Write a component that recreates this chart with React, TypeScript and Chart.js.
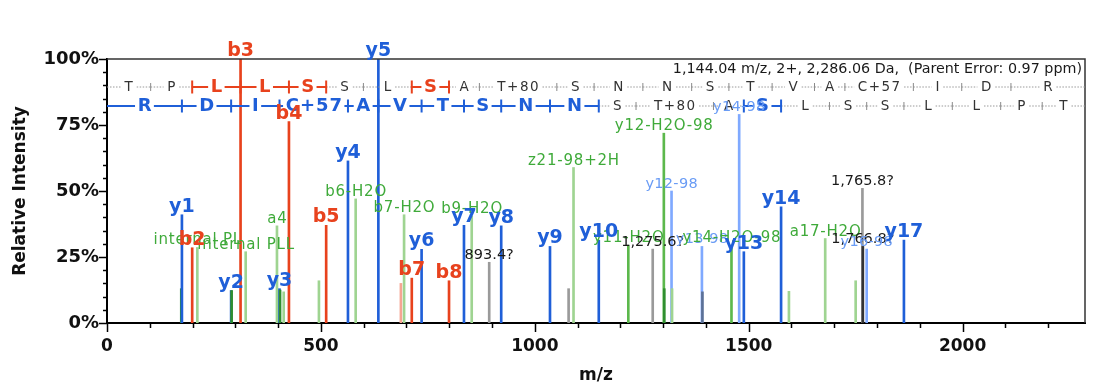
import React, { useEffect, useRef } from 'react';
import { Chart, registerables } from 'chart.js';

Chart.register(...registerables);

// ---------------- data ----------------
const xMax = 2286.06;

const peakMz = [
  173.6, 175.12, 199.11, 211.14, 290.15, 291.3, 312.19, 324.2, 397.3, 403.23, 404.5, 413.0,
  425.28, 495.4, 512.31, 563.26, 581.3, 634.3, 687.0, 694.4, 712.42, 735.36, 799.46, 834.43,
  852.5, 893.4, 921.44, 1035.48, 1079.0, 1090.5, 1149.53, 1218.56, 1275.6, 1301.6, 1302.6,
  1319.6, 1320.8, 1390.6, 1391.8, 1459.7, 1477.7, 1488.61, 1575.65, 1594.0, 1678.8, 1750.0,
  1765.8, 1766.8, 1775.76, 1862.8,
];
const peakIntensity = [
  13, 41, 28.5, 28.6, 12.3, 12.3, 100, 27, 36.8, 13, 12.5, 11.8,
  76.3, 16, 37, 61.4, 47, 100, 15, 41, 17, 27.9, 16, 37,
  40.5, 23, 36.8, 29, 13, 58.9, 31.4, 29.5, 28, 71.9, 13,
  50, 13, 29, 11.8, 29.5, 79, 27, 44, 12, 32, 16,
  51, 29, 28, 31.4,
];
const peakKind = [
  'dg', 'y', 'b', 'lg', 'y', 'dg', 'b', 'lg', 'lg', 'y', 'dg', 'lg',
  'b', 'lg', 'b', 'y', 'lg', 'y', 'pink', 'lg', 'b', 'y', 'b', 'y',
  'lg', 'gray', 'y', 'y', 'gray', 'lg', 'y', 'g', 'gray', 'g', 'dg',
  'lb', 'lg', 'lb', 'db', 'g', 'lb', 'y', 'y', 'lg', 'lg', 'lg',
  'gray', 'blk', 'lb', 'y',
];
const peakLabel = [
  '', 'y1', 'b2', 'internal PL', 'y2', '', 'b3', 'internal PLL', 'a4', 'y3', '', '',
  'b4', '', 'b5', 'y4', 'b6-H2O', 'y5', '', 'b7-H2O', 'b7', 'y6', 'b8', 'y7',
  'b9-H2O', '893.4?', 'y8', 'y9', '', 'z21-98+2H', 'y10', 'y11-H2O', '1,275.6?', 'y12-H2O-98', '',
  'y12-98', '', 'y13-98', '', 'y14-H2O-98', 'y14-98', 'y13', 'y14', '', 'a17-H2O', '',
  '1,765.8?', '1,766.8?', 'y16-98', 'y17',
];

// fragment ladders (residue letters and boundary m/z values)
const bSeq = ['T', 'P', 'L', 'L', 'S', 'S', 'L', 'S', 'A', 'T+80', 'S', 'N', 'N', 'S', 'T', 'V', 'A', 'C+57', 'I', 'D', 'R'];
const bBounds = [0, 102.05, 199.11, 312.19, 425.28, 512.31, 599.34, 712.42, 799.46, 870.49, 1051.5, 1138.54, 1252.58, 1366.63, 1453.66, 1554.71, 1653.77, 1724.81, 1884.84, 1997.92, 2112.95, 2286.06];
const bSolid = [2, 3, 4, 7];

const ySeq = ['R', 'D', 'I', 'C+57', 'A', 'V', 'T', 'S', 'N', 'N', 'S', 'T+80', 'A', 'S', 'L', 'S', 'S', 'L', 'L', 'P', 'T'];
const yBounds = [0, 175.12, 290.15, 403.23, 563.26, 634.3, 735.36, 834.43, 921.44, 1035.48, 1149.53, 1236.57, 1417.58, 1488.61, 1575.65, 1688.73, 1775.76, 1862.8, 1975.88, 2088.96, 2186.02, 2286.06];
const ySolid = [0, 1, 2, 3, 4, 5, 6, 7, 8, 9, 13];

const headerText = '1,144.04 m/z, 2+, 2,286.06 Da,  (Parent Error: 0.97 ppm)';
const xTitle = 'm/z';
const yTitle = 'Relative Intensity';

// ---------------- styles ----------------
const BLUE = '#1f5fd8';
const RED = '#e8421d';
const FONT = "'DejaVu Sans', sans-serif";

const lineColor: Record<string, string> = {
  y: BLUE,
  b: RED,
  g: '#5cb84c',
  lg: '#9fd491',
  dg: '#2f8f2f',
  lb: '#7fa9ff',
  gray: '#9a9a9a',
  blk: '#333333',
  pink: '#f6a593',
  db: '#5d7196',
};
const labelStyle: Record<string, { color: string; size: number; spacing: number; weight: string }> = {
  y: { color: BLUE, size: 19, spacing: 0, weight: 'bold' },
  b: { color: RED, size: 19, spacing: 0, weight: 'bold' },
  g: { color: '#3faa3a', size: 15, spacing: 0.8, weight: 'normal' },
  lg: { color: '#3faa3a', size: 15, spacing: 0.8, weight: 'normal' },
  lb: { color: '#6a9cf5', size: 14.5, spacing: 0.3, weight: 'normal' },
  gray: { color: '#1a1a1a', size: 14.5, spacing: 0, weight: 'normal' },
  blk: { color: '#1a1a1a', size: 14.5, spacing: 0, weight: 'normal' },
};

function drawLadder(ctx: any, xs: any, seq: string[], bounds: number[], solid: number[], yRow: number, color: string) {
  ctx.textAlign = 'center';
  ctx.textBaseline = 'middle';
  for (let i = 0; i < seq.length; i++) {
    const x0 = xs.getPixelForValue(bounds[i]);
    const x1 = xs.getPixelForValue(bounds[i + 1]);
    const mid = (x0 + x1) / 2;
    const on = solid.includes(i);
    ctx.font = on ? `bold 18px ${FONT}` : `13.5px ${FONT}`;
    ctx.letterSpacing = on ? '1px' : '1.5px';
    const w = ctx.measureText(seq[i]).width;
    const gap = on ? 2 : 3;
    const l = mid - w / 2 - gap;
    const r = mid + w / 2 + gap;
    ctx.strokeStyle = on ? color : '#9a9a9a';
    ctx.lineWidth = on ? 2 : 1;
    ctx.setLineDash(on ? [] : [1.5, 1.5]);
    ctx.beginPath();
    if (l > x0) { ctx.moveTo(x0, yRow); ctx.lineTo(l, yRow); }
    if (r < x1) { ctx.moveTo(r, yRow); ctx.lineTo(x1, yRow); }
    ctx.stroke();
    ctx.setLineDash([]);
    ctx.fillStyle = on ? color : '#333';
    ctx.fillText(seq[i], mid + 0.6, yRow + 0.5);
  }
  ctx.letterSpacing = '0px';
  for (let i = 1; i < bounds.length - 1; i++) {
    const px = xs.getPixelForValue(bounds[i]);
    const on = solid.includes(i - 1) || solid.includes(i);
    const half = on ? 6.5 : 4;
    ctx.strokeStyle = on ? color : '#8a8a8a';
    ctx.lineWidth = on ? 2 : 1;
    ctx.beginPath();
    ctx.moveTo(px, yRow - half);
    ctx.lineTo(px, yRow + half);
    ctx.stroke();
  }
}

const annotate = {
  id: 'annotate',
  afterDatasetsDraw(chart: any) {
    const { ctx, chartArea: a } = chart;
    const xs = chart.scales.x;
    const ys = chart.scales.y;
    ctx.save();

    // box top / right
    ctx.strokeStyle = '#333';
    ctx.lineWidth = 1.5;
    ctx.beginPath();
    ctx.moveTo(a.left, a.top);
    ctx.lineTo(a.right, a.top);
    ctx.lineTo(a.right, a.bottom);
    ctx.stroke();

    // axis ticks (major + minor)
    ctx.strokeStyle = '#000';
    ctx.lineWidth = 1.5;
    for (let v = 0; v <= xMax; v += 100) {
      const px = Math.round(xs.getPixelForValue(v)) + 0.5;
      const len = v % 500 === 0 ? 9 : 5;
      ctx.beginPath();
      ctx.moveTo(px, a.bottom);
      ctx.lineTo(px, a.bottom + len);
      ctx.stroke();
    }
    for (let v = 0; v <= 100; v += 5) {
      const py = Math.round(ys.getPixelForValue(v)) + 0.5;
      const len = v % 25 === 0 ? 8 : 4;
      ctx.beginPath();
      ctx.moveTo(a.left, py);
      ctx.lineTo(a.left - len, py);
      ctx.stroke();
    }

    // fragment ladders
    drawLadder(ctx, xs, bSeq, bBounds, bSolid, a.top + 28, RED);
    drawLadder(ctx, xs, ySeq, yBounds, ySolid, a.top + 47, BLUE);

    // header
    ctx.font = `14.3px ${FONT}`;
    ctx.fillStyle = '#1a1a1a';
    ctx.textAlign = 'right';
    ctx.textBaseline = 'alphabetic';
    ctx.fillText(headerText, a.right - 3, a.top + 14);

    // peak labels: small ones first, big ion labels on top
    ctx.textAlign = 'center';
    ctx.textBaseline = 'alphabetic';
    for (const pass of [0, 1]) {
      for (let i = 0; i < peakMz.length; i++) {
        const t = peakLabel[i];
        if (!t) continue;
        const k = peakKind[i];
        const big = k === 'y' || k === 'b';
        if ((pass === 1) !== big) continue;
        const st = labelStyle[k];
        ctx.font = `${st.weight} ${st.size}px ${FONT}`;
        ctx.letterSpacing = `${st.spacing}px`;
        ctx.fillStyle = st.color;
        const px = xs.getPixelForValue(peakMz[i]);
        const py = ys.getPixelForValue(peakIntensity[i]);
        ctx.fillText(t, px + st.spacing / 2, py - 3);
      }
    }
    ctx.letterSpacing = '0px';
    ctx.restore();
  },
};

export default function App() {
  const ref = useRef<HTMLCanvasElement | null>(null);

  useEffect(() => {
    document.body.style.margin = '0';
    const canvas = ref.current;
    if (!canvas) return;
    Chart.defaults.font.family = FONT;
    const xFont = { family: FONT, size: 17, weight: 'bold' as const };
    const yFont = { family: FONT, size: 18, weight: 'bold' as const };
    const chart = new Chart(canvas, {
      type: 'bar',
      data: {
        datasets: [
          {
            data: peakMz.map((m, i) => ({ x: m, y: peakIntensity[i] })),
            backgroundColor: peakKind.map((k) => lineColor[k]),
            borderWidth: 0,
            barThickness: 2,
          } as any,
        ],
      },
      options: {
        responsive: false,
        animation: false,
        events: [],
        layout: { padding: { top: 59, right: 3, left: 0, bottom: 0 } },
        plugins: { legend: { display: false }, tooltip: { enabled: false } },
        scales: {
          x: {
            type: 'linear',
            min: 0,
            max: xMax,
            offset: false,
            grid: { display: false, drawTicks: false },
            border: { display: true, color: '#000', width: 2 },
            ticks: {
              stepSize: 100,
              autoSkip: false,
              maxRotation: 0,
              padding: 13,
              color: '#111',
              font: xFont,
              callback: (v: any) => (Number(v) % 500 === 0 ? String(v) : ''),
            },
            title: {
              display: true,
              text: xTitle,
              color: '#111',
              font: xFont,
              padding: { top: 0, bottom: 1 },
            },
            afterFit: (s: any) => { s.height = 64; },
          },
          y: {
            min: 0,
            max: 100,
            grid: { display: false, drawTicks: false },
            border: { display: true, color: '#000', width: 2 },
            ticks: {
              stepSize: 5,
              autoSkip: false,
              padding: 8,
              color: '#111',
              font: yFont,
              callback: (v: any) => (Number(v) % 25 === 0 ? `${v}%` : ''),
            },
            title: {
              display: true,
              text: yTitle,
              color: '#111',
              font: xFont,
              padding: { top: 10, bottom: 0 },
            },
            afterFit: (s: any) => { s.width = 107; },
          },
        } as any,
      },
      plugins: [annotate],
    });
    return () => chart.destroy();
  }, []);

  return (
    <div style={{ width: 1098, height: 387 }}>
      <canvas ref={ref} width={1098} height={387} style={{ display: 'block' }} />
    </div>
  );
}
